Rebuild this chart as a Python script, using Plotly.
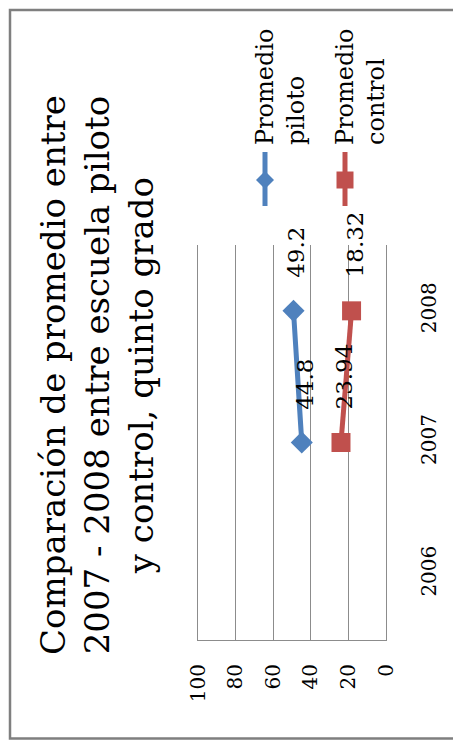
import plotly.graph_objects as go

# ---- data ----
years = ["2006", "2007", "2008"]
piloto = [None, 44.8, 49.2]
control = [None, 23.94, 18.32]
piloto_labels = ["", "44.8", "49.2"]
control_labels = ["", "23.94", "18.32"]
value_ticks = [0, 20, 40, 60, 80, 100]
title_lines = ["Comparación de promedio entre",
               "2007 - 2008 entre escuela piloto",
               "y control, quinto grado"]
series_names = ["Promedio<br>piloto", "Promedio<br>control"]

BLUE = "#4F81BD"
RED = "#C0504D"
GRID = "#8C8C8C"
FONT = "DejaVu Serif, Liberation Serif, serif"

# page body has an 8px margin: figure is drawn from (8, 8)
OFF = 8
W, H = 461 - OFF, 742 - OFF
ML, MR, MT, MB = 198 - OFF, 75, 245 - OFF, 102
PW = W - ML - MR
PH = H - MT - MB


def px(x):
    return (x - OFF - ML) / PW


def py(y):
    return (H - MB - (y - OFF)) / PH


cat_idx = list(range(len(years)))

fig = go.Figure()
fig.add_trace(go.Scatter(
    x=piloto, y=cat_idx, mode="lines+markers",
    line=dict(color=BLUE, width=5),
    marker=dict(symbol="diamond", size=17, color=BLUE),
    showlegend=False, cliponaxis=False))
fig.add_trace(go.Scatter(
    x=control, y=cat_idx, mode="lines+markers",
    line=dict(color=RED, width=5),
    marker=dict(symbol="square", size=19, color=RED),
    showlegend=False, cliponaxis=False))

annotations = []
for vals, labs in ((piloto, piloto_labels), (control, control_labels)):
    for i, (v, t) in enumerate(zip(vals, labs)):
        if v is None:
            continue
        annotations.append(dict(
            x=v, y=i, xref="x", yref="y", text=t, showarrow=False,
            textangle=-90, xanchor="center", yanchor="bottom",
            yshift=31, xshift=3,
            font=dict(family=FONT, size=23, color="black")))

# title
annotations.append(dict(
    x=px(97), y=py(375), xref="paper", yref="paper",
    text="<br>".join(title_lines), showarrow=False, textangle=-90,
    xanchor="center", yanchor="middle", align="center",
    font=dict(family=FONT, size=34, color="black")))

# legend (rotated)
shapes = []
leg_x = [265, 345]
leg_colors = [BLUE, RED]
for k in range(2):
    lx = leg_x[k]
    annotations.append(dict(
        x=px(lx - 16), y=py(147), xref="paper", yref="paper",
        text=series_names[k], showarrow=False, textangle=-90,
        xanchor="left", yanchor="bottom", align="left",
        font=dict(family=FONT, size=24, color="black")))
    shapes.append(dict(type="line", xref="paper", yref="paper",
                       x0=px(lx), x1=px(lx), y0=py(152), y1=py(206),
                       line=dict(color=leg_colors[k], width=5)))
cy = 180
d = 9
shapes.append(dict(type="path", xref="paper", yref="paper",
                   path=f"M {px(leg_x[0]-d)},{py(cy)} L {px(leg_x[0])},{py(cy-d)} "
                        f"L {px(leg_x[0]+d)},{py(cy)} L {px(leg_x[0])},{py(cy+d)} Z",
                   fillcolor=BLUE, line=dict(width=0)))
s = 8.5
shapes.append(dict(type="rect", xref="paper", yref="paper",
                   x0=px(leg_x[1]-s), x1=px(leg_x[1]+s),
                   y0=py(cy-s), y1=py(cy+s),
                   fillcolor=RED, line=dict(width=0)))
# outer frame
shapes.append(dict(type="rect", xref="paper", yref="paper",
                   x0=px(10), x1=px(456), y0=py(10), y1=py(738.5),
                   line=dict(color="#7F7F7F", width=2.5)))

fig.update_layout(
    width=W, height=H,
    margin=dict(l=ML, r=MR, t=MT, b=MB, pad=0),
    paper_bgcolor="white", plot_bgcolor="white",
    showlegend=False,
    annotations=annotations, shapes=shapes,
    xaxis=dict(range=[100, 0], tickvals=value_ticks,
               ticktext=[str(v) for v in value_ticks],
               showgrid=True, gridcolor=GRID, gridwidth=1,
               zeroline=False, showline=True, linecolor=GRID, linewidth=1,
               ticks="", tickangle=-90, ticklabelstandoff=15,
               tickfont=dict(family=FONT, size=20, color="black")),
    yaxis=dict(range=[-0.5, 2.5], tickvals=cat_idx, ticktext=years,
               side="right", showgrid=False, zeroline=False,
               showline=True, mirror=True, linecolor=GRID, linewidth=1,
               ticks="", tickangle=-90, ticklabelstandoff=25,
               tickfont=dict(family=FONT, size=20, color="black")),
    font=dict(family=FONT, color="black"),
)

fig.write_html("out.html")
